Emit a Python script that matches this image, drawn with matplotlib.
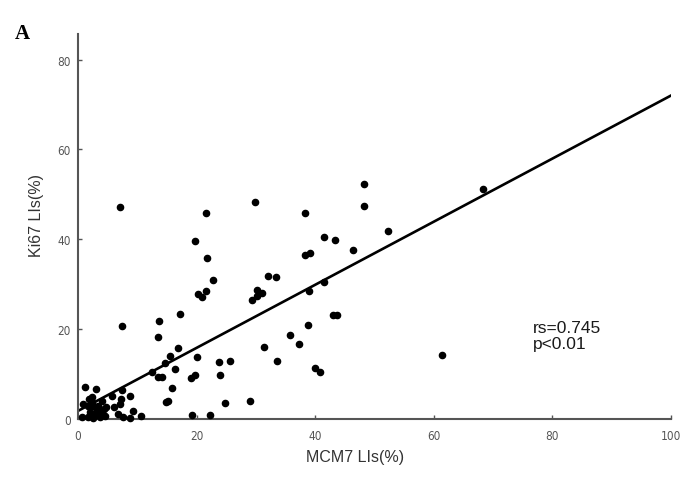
import matplotlib
matplotlib.use("Agg")
import matplotlib.pyplot as plt

# MCM7 LIs (%) vs Ki67 LIs (%)
mcm7 = [29.8, 21.6, 38.2, 19.8, 41.4, 43.4, 21.7, 38.2, 39.1, 22.8,
        32.0, 33.4, 20.3, 20.9, 21.5, 30.1, 31.0, 29.3, 30.1, 41.4,
        38.9, 43.0, 43.6, 38.8, 13.7, 17.2, 13.5, 16.8, 15.5, 14.7,
        20.1, 16.3, 13.5, 14.1, 19.0, 19.8, 23.8, 25.7, 23.9, 31.4,
        35.8, 37.2, 33.6, 39.9, 40.8, 15.9, 14.8, 15.2, 24.8, 29.0,
        19.3, 22.3, 48.3, 48.3, 68.3, 46.3, 52.2, 61.4, 7.1, 7.5,
        12.4, 1.2, 3.0, 7.4, 5.7, 7.3, 8.7, 7.0, 6.0, 9.3,
        10.7, 6.8, 7.6, 8.8, 0.8, 0.6, 1.9, 2.3, 1.7, 2.6,
        3.4, 2.0, 2.9, 3.7, 4.3, 1.7, 2.6, 3.7, 4.6, 3.2,
        4.8, 2.3, 4.0]
ki67 = [48.3, 45.9, 45.9, 39.7, 40.6, 39.9, 35.9, 36.6, 37.0, 31.0,
        31.8, 31.6, 27.8, 27.2, 28.4, 28.6, 28.0, 26.4, 27.3, 30.4,
        28.4, 23.2, 23.2, 21.0, 21.8, 23.4, 18.2, 15.7, 14.0, 12.4,
        13.9, 11.1, 9.3, 9.3, 9.1, 9.9, 12.6, 12.8, 9.8, 16.1,
        18.6, 16.6, 12.8, 11.4, 10.5, 6.8, 3.8, 3.9, 3.6, 3.9,
        1.0, 1.0, 52.2, 47.3, 51.1, 37.7, 41.8, 14.3, 47.2, 20.6,
        10.4, 7.2, 6.7, 6.5, 5.1, 4.5, 5.1, 3.3, 2.7, 1.8,
        0.7, 1.1, 0.4, 0.2, 3.3, 0.4, 4.5, 4.8, 3.0, 3.0,
        3.0, 1.5, 1.1, 1.5, 2.2, 0.4, 0.2, 0.4, 0.7, 1.9,
        2.6, 3.7, 4.1]

# regression line end points
fit_x = [0, 100]
fit_y = [1.8, 72.0]

fig = plt.figure(figsize=(6.88, 4.85), dpi=100)
ax = fig.add_axes([0.1134, 0.134, 0.862, 0.794])

ax.scatter(mcm7, ki67, s=20, c='black', marker='o', zorder=3, clip_on=False)
ax.plot(fit_x, fit_y, color='black', lw=1.9, zorder=2)

ax.set_xlim(0, 100)
ax.set_ylim(0, 85.7)
ax.set_xticks([0, 20, 40, 60, 80, 100])
ax.set_yticks([0, 20, 40, 60, 80])

for s in ['top', 'right']:
    ax.spines[s].set_visible(False)
for s in ['left', 'bottom']:
    ax.spines[s].set_color('#555555')
    ax.spines[s].set_linewidth(1.5)

ax.tick_params(direction='in', length=3, width=1, color='#555555',
               labelcolor='#555555', labelsize=8.5)
for lab in ax.get_xticklabels() + ax.get_yticklabels():
    lab.set_family(['Liberation Sans Narrow', 'DejaVu Sans'])
    lab.set_stretch('condensed')
ax.tick_params(axis='x', pad=7)
ax.tick_params(axis='y', pad=5)

ax.set_xlabel('MCM7 LIs(%)', fontsize=11.5, color='#333333',
              family='Liberation Sans')
ax.set_ylabel('Ki67 LIs(%)', fontsize=11.5, color='#333333',
              family='Liberation Sans')
ax.xaxis.set_label_coords(0.467, -0.078)
ax.yaxis.set_label_coords(-0.058, 0.53)

ax.text(76.7, 19.3, 'rs=0.745', fontsize=12.5, color='#1a1a1a',
        family='Liberation Sans', ha='left', va='baseline')
ax.text(76.7, 15.7, 'p<0.01', fontsize=12.5, color='#1a1a1a',
        family='Liberation Sans', ha='left', va='baseline')

fig.text(0.022, 0.93, 'A', fontsize=15, fontweight='bold',
         family='Liberation Serif', va='center')

fig.savefig('out.png', dpi=100)
